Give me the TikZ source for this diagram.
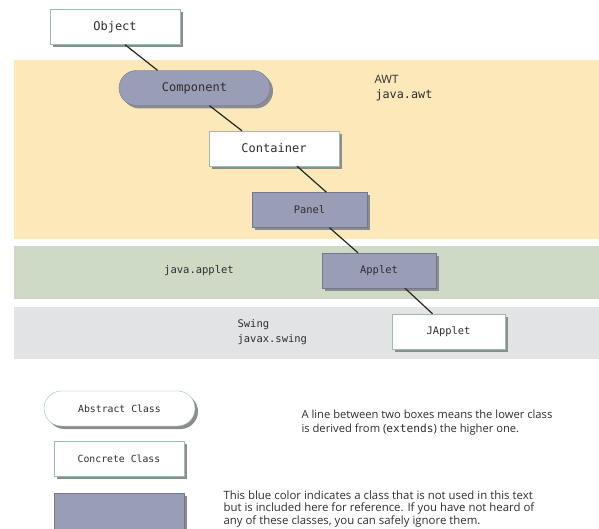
\documentclass[tikz,border=0pt]{standalone}
\usepackage{fontspec}
\setmainfont{Open Sans}
\setmonofont{DejaVu Sans Mono}
\usetikzlibrary{shadows, positioning, calc, shapes}

\definecolor{awtband}{HTML}{FDE8BA}
\definecolor{appletband}{HTML}{CED9C6}
\definecolor{swingband}{HTML}{E2E3E5}
\definecolor{unusedblue}{HTML}{9A9DB6}
\definecolor{blueedge}{HTML}{73778F}
\definecolor{whiteedge}{HTML}{96BFAF}
\definecolor{boxshadow}{HTML}{8C8C8C}
\definecolor{linkline}{HTML}{262626}
\definecolor{inktext}{HTML}{2E2E2E}

\begin{document}
\begin{tikzpicture}[x=1pt,y=-1pt, text=inktext,
  classbox/.style={minimum width=130pt, minimum height=35pt, inner sep=0pt,
    font=\ttfamily\fontsize{12}{14}\selectfont,
    drop shadow={shadow xshift=3pt, shadow yshift=-3pt, fill=boxshadow, opacity=1}},
  concrete/.style={classbox, draw=whiteedge, fill=white},
  unused/.style={classbox, draw=blueedge, fill=unusedblue},
  abstract/.style={rounded corners=17.5pt, minimum width=151pt},
  smallname/.style={font=\ttfamily\fontsize{10.4}{13}\selectfont},
  link/.style={draw=linkline, line width=1.2pt},
  pkglabel/.style={font=\ttfamily\fontsize{10.5}{13}\selectfont},
  note/.style={font=\fontsize{11.2}{14}\selectfont, align=left, anchor=west}]
\useasboundingbox (0,0) rectangle (599,529);
\clip (0,0) rectangle (599,529);

% package bands
\fill[awtband] (14,60) rectangle (599,239);
\fill[appletband] (14,246) rectangle (599,299);
\fill[swingband] (14,307) rectangle (599,359);

\node[anchor=base west, font=\fontsize{11.5}{13}\selectfont] (awtname) at (371,84) {AWT};
\node[anchor=base west, font=\ttfamily\fontsize{11.8}{13}\selectfont] (awtpkg) at (372,99) {java.awt};
\node[pkglabel] (appletpkg) at (199,271) {java.applet};
\node[anchor=base west, pkglabel] (swingname) at (234,327) {Swing};
\node[anchor=base west, pkglabel] (swingpkg) at (234,342) {javax.swing};

% class hierarchy
\node[concrete] (object) at (115,27) {Object};
\node[unused, abstract] (component) at (194.5,88) {Component};
\node[concrete] (container) at (274,148.5) {Container};
\node[unused, smallname, minimum width=115pt] (panel) at (309.5,210) {Panel};
\node[unused, smallname, minimum width=114pt] (applet) at (379,270.5) {Applet};
\node[concrete, smallname, minimum width=113pt] (japplet) at (448.5,331.5) {JApplet};

\draw[link] ([xshift=10pt]object.south) -- ([xshift=-37pt]component.north);
\draw[link] ([xshift=15pt]component.south) -- ([xshift=-32pt]container.north);
\draw[link] ([xshift=23pt]container.south) -- ([xshift=17pt]panel.north);
\draw[link] ([xshift=20pt]panel.south) -- ([xshift=-21pt]applet.north);
\draw[link] ([xshift=26pt]applet.south) -- ([xshift=-16pt]japplet.north);

% legend
\node[concrete, abstract, font=\ttfamily\fontsize{9.8}{12}\selectfont] (abstractkey) at (119.5,408.5) {Abstract Class};
\node[concrete, font=\ttfamily\fontsize{9.8}{12}\selectfont] (concretekey) at (119,458.5) {Concrete Class};
\node[unused, minimum height=46pt] (unusedkey) at (119,516) {};

\node[note] (linknote) at (298,423) {A line between two boxes means the lower class\\is derived from ({\ttfamily extends}) the higher one.};
\node[note, font=\fontsize{11.4}{12.8}\selectfont] (bluenote) at (220,509) {This blue color indicates a class that is not used in this text\\but is included here for reference. If you have not heard of\\any of these classes, you can safely ignore them.};
\end{tikzpicture}
\end{document}
